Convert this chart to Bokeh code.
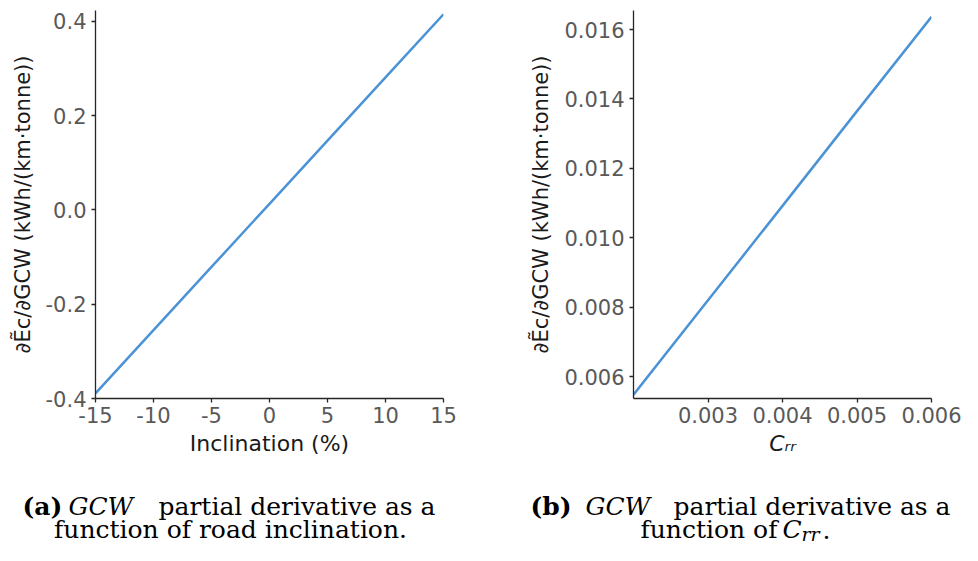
from bokeh.plotting import figure
from bokeh.layouts import column, row
from bokeh.models import Range1d, FixedTicker
from bokeh.core.properties import value
from bokeh.embed import file_html
from bokeh.resources import INLINE

# ---- data ----
incl_x = [-15, -10, -5, 0, 5, 10, 15]
incl_y = [-0.389, -0.255, -0.121, 0.013, 0.147, 0.281, 0.415]
crr_x = [0.002, 0.003, 0.004, 0.005, 0.006]
crr_y = [0.00548, 0.00820, 0.01092, 0.01365, 0.01637]

incl_xticks = [-15, -10, -5, 0, 5, 10, 15]
incl_xlabels = ["-15", "-10", "-5", "0", "5", "10", "15"]
incl_yticks = [-0.4, -0.2, 0.0, 0.2, 0.4]
incl_ylabels = ["-0.4", "-0.2", "0.0", "0.2", "0.4"]
crr_xticks = [0.003, 0.004, 0.005, 0.006]
crr_xlabels = ["0.003", "0.004", "0.005", "0.006"]
crr_yticks = [0.006, 0.008, 0.010, 0.012, 0.014, 0.016]
crr_ylabels = ["0.006", "0.008", "0.010", "0.012", "0.014", "0.016"]

ylabel_text = "∂Ẽc/∂GCW (kWh/(km·tonne))"
xlabel_a = "Inclination (%)"
xlabel_b = "Cᵣᵣ"

LINE_COLOR = "#4c93d6"
SPINE = "#262626"
TICKLBL = "#595959"
FS = "21px"


def style(p, xlabel, ylabel, xt, xl, yt, yl, xstyle="normal"):
    p.xgrid.visible = False
    p.ygrid.visible = False
    p.outline_line_color = None
    for ax in (p.xaxis[0], p.yaxis[0]):
        ax.axis_line_color = SPINE
        ax.axis_line_width = 1.3
        ax.major_tick_line_color = SPINE
        ax.major_tick_line_width = 1.3
        ax.major_tick_out = 4
        ax.major_tick_in = 0
        ax.minor_tick_out = 0
        ax.minor_tick_in = 0
        ax.major_label_text_font = "DejaVu Sans"
        ax.major_label_text_font_size = FS
        ax.major_label_text_color = TICKLBL
        ax.axis_label_text_font = "DejaVu Sans"
        ax.axis_label_text_font_size = "22px"
        ax.axis_label_text_color = "#1a1a1a"
        ax.axis_label_text_font_style = "normal"
        ax.major_label_standoff = 5
        ax.axis_label_standoff = 8
    p.xaxis[0].axis_label = xlabel
    p.xaxis[0].axis_label_text_font_style = xstyle
    p.yaxis[0].axis_label = ylabel
    p.yaxis[0].axis_label_text_font_size = FS
    p.xaxis[0].major_label_standoff = 4
    p.xaxis[0].axis_label_standoff = 5
    p.xaxis[0].ticker = FixedTicker(ticks=xt)
    p.yaxis[0].ticker = FixedTicker(ticks=yt)
    p.xaxis[0].major_label_overrides = dict(zip(xt, xl))
    p.yaxis[0].major_label_overrides = dict(zip(yt, yl))


TOP_H = 475

p1 = figure(width=470, height=TOP_H, x_range=Range1d(-15, 15), y_range=Range1d(-0.4, 0.423),
            output_backend="svg", toolbar_location=None,
            min_border_left=95, min_border_right=27, min_border_top=10, min_border_bottom=74)
p1.line(incl_x, incl_y, line_color=LINE_COLOR, line_width=2.5)
style(p1, xlabel_a, ylabel_text, incl_xticks, incl_xlabels, incl_yticks, incl_ylabels)

p2 = figure(width=492, height=TOP_H, x_range=Range1d(0.002, 0.006), y_range=Range1d(0.00537, 0.01655),
            output_backend="svg", toolbar_location=None,
            min_border_left=163, min_border_right=31, min_border_top=10, min_border_bottom=77)
p2.line(crr_x, crr_y, line_color=LINE_COLOR, line_width=2.5)
style(p2, xlabel_b, ylabel_text, crr_xticks, crr_xlabels, crr_yticks, crr_ylabels, xstyle="italic")

# ---- captions (page pixel coordinates, y downward) ----
CAP_H = 545 - TOP_H
cap = figure(width=962, height=CAP_H, x_range=Range1d(0, 962), y_range=Range1d(545, TOP_H),
             output_backend="svg", toolbar_location=None, min_border=0,
             x_axis_location=None, y_axis_location=None)
cap.xgrid.visible = False
cap.ygrid.visible = False
cap.outline_line_color = None

SERIF = value("DejaVu Serif")
CFS = value("25px")
CCOL = "#000000"
L1, L2 = 506, 529

cap.text(x=[22, 530], y=[L1, L1], text=["(a)", "(b)"], text_font=SERIF, text_font_size=CFS,
         text_font_style="bold", text_align="left", text_baseline="alphabetic", text_color=CCOL)
cap.text(x=[68, 585], y=[L1, L1], text=["GCW", "GCW"], text_font=SERIF, text_font_size=CFS,
         text_font_style="italic", text_align="left", text_baseline="alphabetic", text_color=CCOL)
cap.text(x=[158, 673], y=[L1, L1], text=["partial derivative as a", "partial derivative as a"],
         text_font=SERIF, text_font_size=CFS, text_font_style="normal", text_align="left",
         text_baseline="alphabetic", text_color=CCOL)
cap.text(x=[230], y=[L2], text=["function of road inclination."], text_font=SERIF, text_font_size=CFS,
         text_font_style="normal", text_align="center", text_baseline="alphabetic", text_color=CCOL)
cap.text(x=[640], y=[L2], text=["function of"], text_font=SERIF, text_font_size=CFS,
         text_font_style="normal", text_align="left", text_baseline="alphabetic", text_color=CCOL)
cap.text(x=[782], y=[L2], text=["C"], text_font=SERIF, text_font_size=CFS,
         text_font_style="italic", text_align="left", text_baseline="alphabetic", text_color=CCOL)
cap.text(x=[801], y=[L2 + 4], text=["rr"], text_font=SERIF, text_font_size=value("19px"),
         text_font_style="italic", text_align="left", text_baseline="alphabetic", text_color=CCOL)
cap.text(x=[822], y=[L2], text=["."], text_font=SERIF, text_font_size=CFS,
         text_font_style="normal", text_align="left", text_baseline="alphabetic", text_color=CCOL)

layout = column(row(p1, p2), cap)
open("out.html", "w").write(file_html(layout, INLINE))
